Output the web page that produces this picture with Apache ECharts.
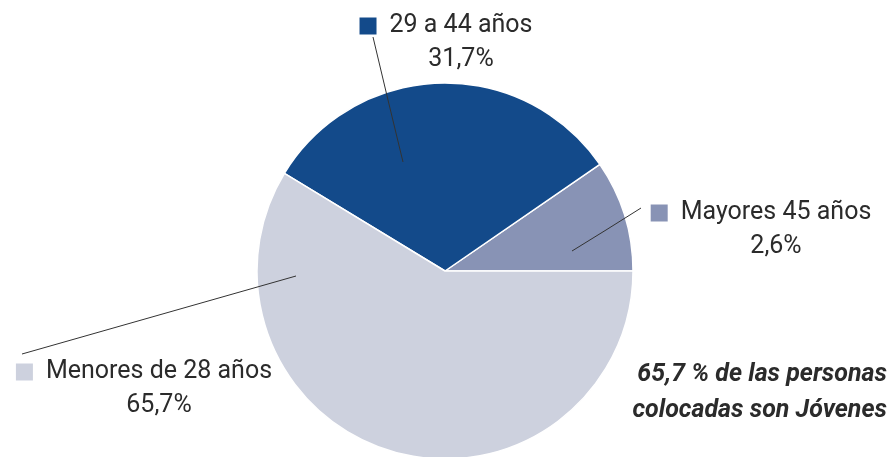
<!DOCTYPE html>
<html>
<head>
<meta charset="utf-8">
<script src="https://cdn.jsdelivr.net/npm/echarts@6/dist/echarts.min.js"></script>
<style>html,body{margin:0;padding:0;background:#fff}#c{width:889px;height:457px}</style>
</head>
<body>
<div id="c"></div>
<script>
// Categories in drawing order (counter-clockwise from 3 o'clock)
const categories = ['Mayores 45 años', '29 a 44 años', 'Menores de 28 años'];
// Slice sizes as drawn in the picture (angular share, %)
const sliceValues = [9.6, 31.7, 58.7];
// Percent labels as printed in the picture
const percentLabels = ['2,6%', '31,7%', '65,7%'];
const noteLines = ['65,7 % de las personas', 'colocadas son Jóvenes'];

const colors = ['#8893b5', '#134a8a', '#cdd1de'];
const textColor = '#2b2b2b';

// label placement (annotation layout)
const labelPos = [
  { x: 761, y: 230, line: [[572, 251], [606, 230], [641, 208]] },
  { x: 446, y: 43, line: [[403, 162], [388, 100], [373, 37]] },
  { x: 144, y: 389, line: [[296, 276], [159, 315], [22, 354]] }
];

const rich = {
  nm: { fontSize: 25, lineHeight: 34, padding: [0, 0, 0, 13], align: 'center', color: textColor, fontFamily: 'Roboto' },
  pct: { fontSize: 25, lineHeight: 34, padding: [0, 0, 0, 30], align: 'center', color: textColor, fontFamily: 'Roboto' }
};
colors.forEach((c, i) => {
  rich['sq' + i] = { width: 17, height: 17, backgroundColor: c, align: 'center', lineHeight: 34 };
});

const pieBase = {
  type: 'pie',
  center: [445, 271],
  radius: 188,
  startAngle: 0,
  clockwise: false,
  avoidLabelOverlap: false,
  emphasis: { disabled: true }
};

const chart = echarts.init(document.getElementById('c'), null, { renderer: 'canvas' });
chart.setOption({
  animation: false,
  title: {
    text: noteLines.join('\n'),
    left: 887,
    top: 357,
    padding: 0,
    textAlign: 'right',
    textStyle: {
      fontFamily: 'Roboto',
      fontStyle: 'italic',
      fontWeight: 'bold',
      fontSize: 25,
      lineHeight: 36,
      color: textColor
    }
  },
  series: [
    Object.assign({}, pieBase, {
      z: 2,
      itemStyle: { borderColor: '#ffffff', borderWidth: 1.5 },
      label: { show: false },
      labelLine: { show: false },
      data: categories.map((name, i) => ({ name: name, value: sliceValues[i], itemStyle: { color: colors[i] } }))
    }),
    Object.assign({}, pieBase, {
      z: 10,
      silent: true,
      itemStyle: { color: 'rgba(0,0,0,0)', borderWidth: 0 },
      label: {
        show: true,
        position: 'outside',
        width: 260,
        overflow: 'none',
        formatter: p => `{sq${p.dataIndex}|}{nm|${p.name}}\n{pct|${percentLabels[p.dataIndex]}}`,
        rich: rich
      },
      labelLine: { show: true, showAbove: true, lineStyle: { color: '#333333', width: 1 } },
      labelLayout: params => {
        const lp = labelPos[params.dataIndex];
        return { x: lp.x, y: lp.y, align: 'center', verticalAlign: 'middle', labelLinePoints: lp.line };
      },
      data: categories.map((name, i) => ({ name: name, value: sliceValues[i] }))
    })
  ]
});
</script>
</body>
</html>
